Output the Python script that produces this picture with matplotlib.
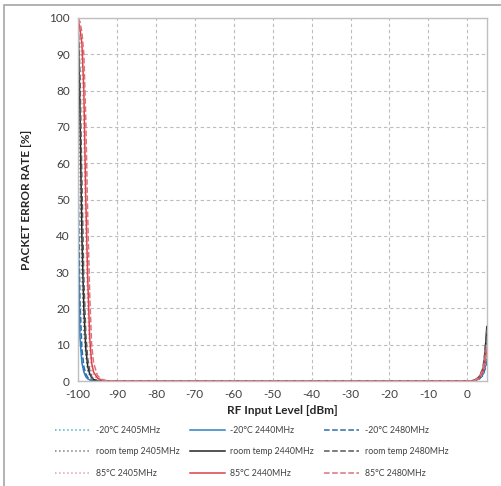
import matplotlib.pyplot as plt
from matplotlib.patches import Rectangle

# RF input level sweep [dBm]
levels = [-100, -99.5, -99, -98.5, -98, -97.5, -97, -96.5, -96, -95, -94, -93, -92, -90,
          -80, -70, -60, -50, -40, -30, -20, -10, 0,
          1, 2, 3, 4, 4.5, 5]

mid_zero = [0, 0, 0, 0, 0, 0, 0, 0, 0]

# packet error rate [%] per temperature / channel
per_m20_2405 = [52, 14, 6, 3, 1.5, 0.8, 0.4, 0.2, 0.1, 0, 0, 0, 0, 0] + mid_zero + [0, 0.1, 0.5, 1.5, 3, 5]
per_m20_2440 = [45, 12, 5, 2.5, 1.2, 0.6, 0.3, 0.1, 0, 0, 0, 0, 0, 0] + mid_zero + [0, 0.1, 0.6, 1.8, 3.5, 6]
per_m20_2480 = [60, 22, 9, 4, 2, 1, 0.5, 0.2, 0.1, 0, 0, 0, 0, 0] + mid_zero + [0, 0.1, 0.5, 1.6, 3.2, 5.5]
per_rt_2405 = [100, 60, 30, 14, 7, 3, 1.5, 0.6, 0.3, 0, 0, 0, 0, 0] + mid_zero + [0, 0.2, 0.8, 2.5, 5, 11]
per_rt_2440 = [100, 75, 40, 20, 9, 4, 2, 1, 0.4, 0.1, 0, 0, 0, 0] + mid_zero + [0, 0.3, 1, 3, 7, 15]
per_rt_2480 = [100, 85, 55, 28, 13, 6, 3, 1.2, 0.5, 0.1, 0, 0, 0, 0] + mid_zero + [0, 0.3, 1.2, 3.5, 8, 14]
per_85_2405 = [100, 96, 88, 68, 40, 20, 8, 3, 1.5, 0.5, 0.1, 0, 0, 0] + mid_zero + [0, 0.1, 0.6, 2, 4, 8]
per_85_2440 = [100, 97, 93, 80, 50, 28, 12, 5, 2.5, 0.8, 0.3, 0.1, 0, 0] + mid_zero + [0, 0.2, 0.8, 2.5, 5, 9]
per_85_2480 = [100, 99, 96, 90, 72, 45, 24, 10, 5, 1.5, 0.5, 0.2, 0, 0] + mid_zero + [0, 0.2, 1, 3, 6, 10]

series = [
    ("-20°C 2405MHz", per_m20_2405, "#4bacc6", ":"),
    ("-20°C 2440MHz", per_m20_2440, "#2f7fc1", "-"),
    ("-20°C 2480MHz", per_m20_2480, "#2f6fa8", "--"),
    ("room temp 2405MHz", per_rt_2405, "#7f7f7f", ":"),
    ("room temp 2440MHz", per_rt_2440, "#262626", "-"),
    ("room temp 2480MHz", per_rt_2480, "#595959", "--"),
    ("85°C 2405MHz", per_85_2405, "#e6a0a8", ":"),
    ("85°C 2440MHz", per_85_2440, "#d9434b", "-"),
    ("85°C 2480MHz", per_85_2480, "#e0707a", "--"),
]

plt.rcParams['font.family'] = ['Lato', 'DejaVu Sans']
plt.rcParams['axes.unicode_minus'] = False

fig = plt.figure(figsize=(5.01, 4.86), dpi=100)
ax = fig.add_axes([0.1557, 0.216, 0.816, 0.747])

lines = []
for label, vals, color, ls in series:
    ln, = ax.plot(levels, vals, color=color, linestyle=ls, linewidth=1.1, label=label)
    lines.append(ln)

ax.set_xlim(-100, 5)
ax.set_ylim(0, 100)
ax.set_xticks(range(-100, 1, 10))
ax.set_yticks(range(0, 101, 10))
ax.grid(True, color='#bdbdbd', linestyle=(0, (3, 2.5)), linewidth=0.8)
ax.tick_params(length=0, labelsize=8.5, colors='#404040', pad=6)
for sp in ax.spines.values():
    sp.set_color('#bfbfbf')
    sp.set_linewidth(1.0)

ax.set_xlabel('RF Input Level [dBm]', fontsize=8.5, fontweight='bold', color='#262626', labelpad=3)
ax.set_ylabel('PACKET ERROR RATE [%]', fontsize=8.5, fontweight='bold', color='#262626', labelpad=12)

# legend filled row by row: one row per temperature
order = [0, 3, 6, 1, 4, 7, 2, 5, 8]
leg = fig.legend([lines[i] for i in order], [series[i][0] for i in order],
                 loc='lower left', bbox_to_anchor=(0.095, 0.0), ncol=3, frameon=False,
                 fontsize=6.3, handlelength=4.0, columnspacing=1.2, labelspacing=1.45,
                 handletextpad=0.6)
for t in leg.get_texts():
    t.set_color('#404040')

# outer chart frame
fig.patches.append(Rectangle((0.008, -0.05), 1.2, 1.04, transform=fig.transFigure,
                             fill=False, edgecolor='#a6a6a6', linewidth=1.2))

fig.savefig('out.png', dpi=100)
